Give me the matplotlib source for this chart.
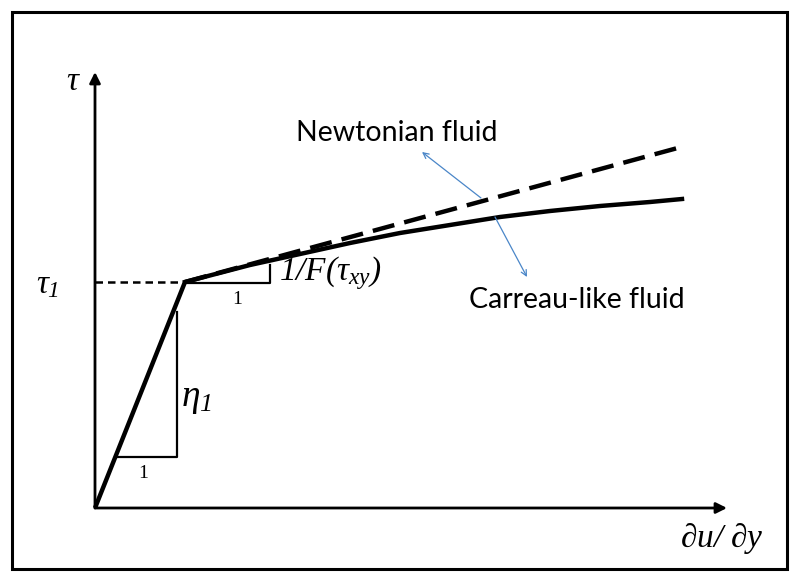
import matplotlib
matplotlib.use('Agg')
import matplotlib.pyplot as plt
from matplotlib.patches import Rectangle

# every math label in the sketch is set in italic serif, digits included
plt.rcParams['mathtext.fontset'] = 'custom'
plt.rcParams['mathtext.rm'] = 'Liberation Serif:italic'
plt.rcParams['mathtext.it'] = 'Liberation Serif:italic'

# schematic data (origin at the axes corner, arbitrary units)
kink_x, kink_y = 0.90, 2.26                 # (shear rate, tau_1) where the slope changes
steep_x = [0.0, kink_x]
steep_y = [0.0, kink_y]
newton_x = [kink_x, 5.90]
newton_y = [kink_y, 3.62]
carreau_x = [0.90, 1.55, 2.05, 2.55, 3.05, 3.55, 4.05, 4.55, 5.05, 5.55, 5.87]
carreau_y = [2.26, 2.43, 2.54, 2.65, 2.75, 2.83, 2.91, 2.97, 3.02, 3.06, 3.09]
x_axis_end = 6.32
y_axis_end = 4.36
tri1_x = [0.23, 0.82, 0.82]                  # slope triangle on the first branch
tri1_y = [0.51, 0.51, 1.96]
tri2_x = [kink_x, 1.75, 1.75]               # slope triangle on the second branch
tri2_y = [2.25, 2.25, 2.43]

fig = plt.figure(figsize=(8, 5.83), dpi=100)
ax = fig.add_axes([0, 0, 1, 1])
ax.set_xlim(-0.95, 7.05)
ax.set_ylim(-0.75, 5.08)
ax.axis('off')

# outer frame
fig.patches.append(Rectangle((12 / 800, 14 / 583), 775 / 800, 557 / 583,
                             transform=fig.transFigure, fill=False,
                             edgecolor='black', lw=2.2))

# axes with arrows
arrow = dict(arrowstyle='-|>', color='black', lw=2.0, mutation_scale=16,
             shrinkA=0, shrinkB=0)
ax.annotate('', xy=(x_axis_end, 0), xytext=(0, 0), arrowprops=arrow)
ax.annotate('', xy=(0, y_axis_end), xytext=(0, 0), arrowprops=arrow)

# curves
ax.plot(steep_x, steep_y, color='black', lw=3.2, solid_capstyle='butt')
ax.plot(newton_x, newton_y, color='black', lw=3.2, dashes=(5, 2.3))
ax.plot(carreau_x, carreau_y, color='black', lw=3.2)
ax.plot([0, kink_x], [kink_y, kink_y], color='black', lw=1.8, dashes=(3, 2))

# slope triangles
ax.plot(tri1_x, tri1_y, color='black', lw=1.6)
ax.plot(tri2_x, tri2_y, color='black', lw=1.6)

# labels
ax.text(-0.22, 4.28, r'$\tau$', fontsize=24, ha='center', va='center')
ax.text(-0.47, 2.24, r'$\tau_1$', fontsize=24, ha='center', va='center')
ax.text(6.27, -0.30, r'$\partial u/\ \partial y$', fontsize=24, ha='center', va='center')
ax.text(0.48, 0.35, '1', fontsize=14, family='Liberation Serif', ha='center', va='center')
ax.text(0.86, 1.10, r'$\eta_1$', fontsize=27, ha='left', va='center')
ax.text(1.42, 2.09, '1', fontsize=14, family='Liberation Serif', ha='center', va='center')
ax.text(1.84, 2.35, r'$1/F(\tau_{xy})$', fontsize=24, ha='left', va='center')

ax.text(3.02, 3.75, 'Newtonian fluid', fontsize=20.5, family='Lato', ha='center', va='center')
ax.text(4.82, 2.08, 'Carreau-like fluid', fontsize=20.5, family='Lato', ha='center', va='center')

blue = dict(arrowstyle='->', color='#4a86c8', lw=0.9, mutation_scale=10,
            shrinkA=0, shrinkB=0)
ax.annotate('', xy=(3.27, 3.56), xytext=(3.86, 3.10), arrowprops=blue)
ax.annotate('', xy=(4.32, 2.31), xytext=(4.00, 2.91), arrowprops=blue)

fig.savefig('out.png', dpi=100)
